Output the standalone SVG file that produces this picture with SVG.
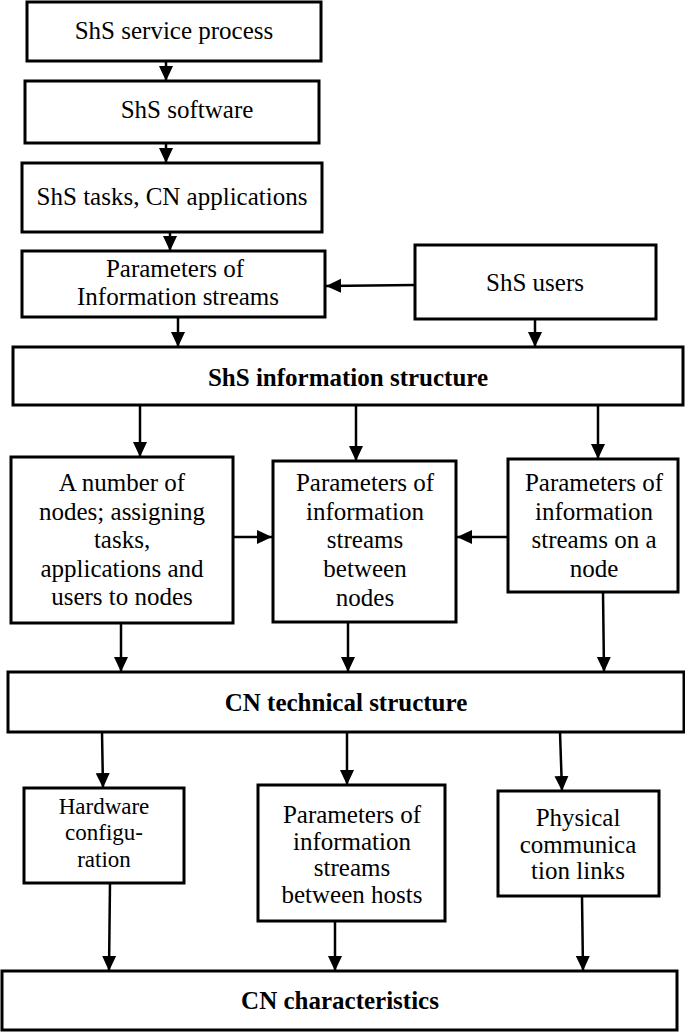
<svg xmlns="http://www.w3.org/2000/svg" width="685" height="1032" viewBox="0 0 685 1032">
<style>
.box{fill:#fff;stroke:#000;stroke-width:3}
.t{font-family:"Liberation Serif","Times New Roman","DejaVu Serif",serif;font-size:25px;fill:#000;text-anchor:middle}
.s{font-size:23px}
.b{font-weight:bold}
.c{stroke:#000;stroke-width:2.5;fill:none;marker-end:url(#ah)}
</style>
<defs>
<marker id="ah" markerUnits="userSpaceOnUse" markerWidth="16" markerHeight="16" viewBox="0 0 16 16" refX="15" refY="8" orient="auto">
<path d="M0,1 L15,8 L0,15 Z" fill="#000"/>
</marker>
</defs>
<rect width="685" height="1032" fill="#fff"/>
<g id="connectors">
<line class="c" x1="166" y1="61" x2="166" y2="81"/>
<line class="c" x1="166" y1="143" x2="166" y2="163"/>
<line class="c" x1="170" y1="232" x2="170" y2="251"/>
<line class="c" x1="415" y1="285" x2="326" y2="286"/>
<line class="c" x1="178" y1="317" x2="178" y2="347"/>
<line class="c" x1="535" y1="319" x2="535" y2="347"/>
<line class="c" x1="140" y1="405" x2="140" y2="457"/>
<line class="c" x1="356" y1="405" x2="356" y2="461"/>
<line class="c" x1="598" y1="405" x2="598" y2="459"/>
<line class="c" x1="233" y1="537" x2="272" y2="537"/>
<line class="c" x1="510" y1="537" x2="457" y2="537"/>
<line class="c" x1="121" y1="623" x2="121" y2="672"/>
<line class="c" x1="348" y1="622" x2="348" y2="672"/>
<line class="c" x1="603" y1="592" x2="604" y2="672"/>
<line class="c" x1="102" y1="732" x2="103" y2="788"/>
<line class="c" x1="347" y1="732" x2="347" y2="785"/>
<line class="c" x1="560" y1="732" x2="562" y2="791"/>
<line class="c" x1="110" y1="883" x2="109" y2="971"/>
<line class="c" x1="335" y1="921" x2="335" y2="971"/>
<line class="c" x1="582" y1="896" x2="583" y2="971"/>
</g>
<g id="n1"><rect class="box" x="27" y="2" width="294" height="59"/><text class="t" x="174" y="39">ShS service process</text></g>
<g id="n2"><rect class="box" x="25" y="81" width="294" height="62"/><text class="t" x="187" y="118">ShS software</text></g>
<g id="n3"><rect class="box" x="22" y="163" width="300" height="69"/><text class="t" x="172" y="205">ShS tasks, CN applications</text></g>
<g id="n4"><rect class="box" x="22" y="251" width="303" height="66"/><text class="t" x="175" y="277">Parameters of</text><text class="t" x="178" y="305">Information streams</text></g>
<g id="n5"><rect class="box" x="415" y="245" width="241" height="74"/><text class="t" x="535" y="291">ShS users</text></g>
<g id="n6"><rect class="box" x="13" y="347" width="670" height="58"/><text class="t b" x="348" y="386">ShS information structure</text></g>
<g id="n7"><rect class="box" x="11" y="457" width="222" height="166"/><text class="t" x="122" y="491">A number of</text><text class="t" x="122" y="520">nodes; assigning</text><text class="t" x="122" y="548">tasks,</text><text class="t" x="122" y="577">applications and</text><text class="t" x="122" y="605">users to nodes</text></g>
<g id="n8"><rect class="box" x="273" y="461" width="183" height="161"/><text class="t" x="365" y="491">Parameters of</text><text class="t" x="365" y="520">information</text><text class="t" x="365" y="548">streams</text><text class="t" x="365" y="577">between</text><text class="t" x="365" y="606">nodes</text></g>
<g id="n9"><rect class="box" x="508" y="459" width="170" height="133"/><text class="t" x="594" y="491">Parameters of</text><text class="t" x="594" y="520">information</text><text class="t" x="594" y="548">streams on a</text><text class="t" x="594" y="577">node</text></g>
<g id="n10"><rect class="box" x="8" y="672" width="676" height="60"/><text class="t b" x="346" y="711">CN technical structure</text></g>
<g id="n11"><rect class="box" x="24" y="788" width="160" height="95"/><text class="t s" x="104" y="814">Hardware</text><text class="t s" x="104" y="840">configu-</text><text class="t s" x="104" y="867">ration</text></g>
<g id="n12"><rect class="box" x="258" y="785" width="187" height="136"/><text class="t" x="352" y="823">Parameters of</text><text class="t" x="352" y="850">information</text><text class="t" x="352" y="876">streams</text><text class="t" x="352" y="903">between hosts</text></g>
<g id="n13"><rect class="box" x="498" y="791" width="161" height="105"/><text class="t" x="578" y="826">Physical</text><text class="t" x="578" y="853">communica</text><text class="t" x="578" y="879">tion links</text></g>
<g id="n14"><rect class="box" x="2" y="971" width="675" height="59"/><text class="t b" x="340" y="1009">CN characteristics</text></g>
</svg>
